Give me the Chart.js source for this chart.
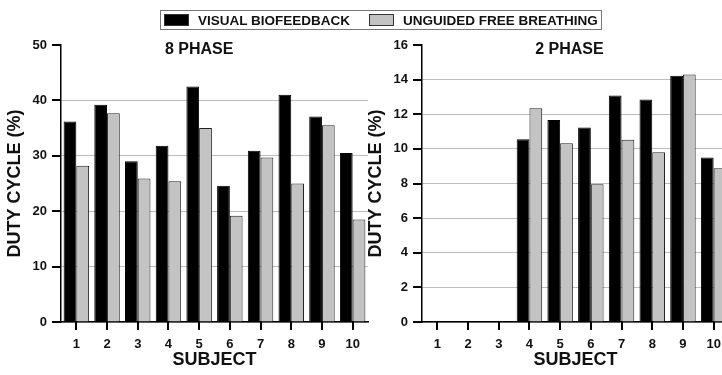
<!DOCTYPE html>
<html>
<head>
    <meta charset="utf-8">
    <title>Duty cycle by subject</title>
    <script src="https://cdn.jsdelivr.net/npm/chart.js@4/dist/chart.umd.min.js"></script>
    <style>
        body { margin: 0; width: 722px; height: 375px; overflow: hidden; background: #fff; position: relative; }
        .box { position: absolute; top: 0; width: 370px; height: 375px; }
        #legend { position: absolute; left: 160px; top: 10px; width: 440px; height: 18px; border: 1px solid #777;
            font: bold 13.5px "Liberation Sans", Arial, sans-serif; color: #111; display: flex; align-items: center;
            white-space: nowrap; }
        #legend span.sw { display: inline-block; flex-shrink: 0; width: 25px; height: 12px; border: 1px solid #333; margin: 0 9px 0 3px; box-sizing: border-box; }
        #legend .item { display: flex; flex-shrink: 0; align-items: center; margin-right: 16px; }
    </style>
</head>
<body>
    <div class="box" style="left:0"><canvas id="chart8"></canvas></div>
    <div class="box" style="left:361px"><canvas id="chart2"></canvas></div>
    <div id="legend"></div>

    <script>
        var subjects = ['1', '2', '3', '4', '5', '6', '7', '8', '9', '10'];
        var seriesNames = ['VISUAL BIOFEEDBACK', 'UNGUIDED FREE BREATHING'];
        var seriesColors = ['#000000', '#c3c3c3'];

        // 8 phase
        var phase8Bio = [36.2, 39.2, 29.0, 31.8, 42.5, 24.6, 30.9, 41.0, 37.1, 30.5];
        var phase8Free = [28.2, 37.7, 25.9, 25.4, 35.0, 19.2, 29.7, 25.0, 35.5, 18.5];
        var phase8Ticks = { max: 50, step: 10 };

        // 2 phase (subjects 1-3 had no data)
        var phase2Bio = [null, null, null, 10.56, 11.67, 11.23, 13.08, 12.85, 14.23, 9.5];
        var phase2Free = [null, null, null, 12.35, 10.33, 7.96, 10.52, 9.81, 14.29, 8.88];
        var phase2Ticks = { max: 16, step: 2 };

        var FONT = '"Liberation Sans", Arial, sans-serif';

        // legend shared by both panels
        var leg = document.getElementById('legend');
        seriesNames.forEach(function(n, i) {
            var it = document.createElement('div');
            it.className = 'item';
            it.innerHTML = '<span class="sw" style="background:' + seriesColors[i] + '"></span>' + n;
            leg.appendChild(it);
        });

        var panelTitle = {
            id: 'panelTitle',
            afterDraw: function(chart, args, opts) {
                var c = chart.ctx, a = chart.chartArea;
                c.save();
                c.font = 'bold 16px ' + FONT;
                c.fillStyle = '#111';
                c.textAlign = 'center';
                c.textBaseline = 'middle';
                c.fillText(opts.text, a.left + (a.right - a.left) * opts.pos, a.top + 5);
                c.restore();
            }
        };

        // outward black tick marks on both axes
        var tickMarks = {
            id: 'tickMarks',
            afterDraw: function(chart) {
                var c = chart.ctx, a = chart.chartArea, xs = chart.scales.x, ys = chart.scales.y;
                c.save();
                c.strokeStyle = '#000';
                c.lineWidth = 2;
                c.beginPath();
                xs.ticks.forEach(function(t, i) {
                    var px = Math.round(xs.getPixelForTick(i));
                    c.moveTo(px, a.bottom);
                    c.lineTo(px, a.bottom + 8);
                });
                ys.ticks.forEach(function(t, i) {
                    var py = Math.round(ys.getPixelForTick(i));
                    c.moveTo(a.left - 9, py);
                    c.lineTo(a.left, py);
                });
                c.stroke();
                c.restore();
            }
        };

        function makeChart(id, title, pos, bio, free, ticks) {
            var ctx = document.getElementById(id).getContext('2d');
            return new Chart(ctx, {
                type: 'bar',
                data: {
                    labels: subjects,
                    datasets: [{
                        label: seriesNames[0],
                        data: bio,
                        backgroundColor: seriesColors[0],
                        borderColor: '#000',
                        borderWidth: 1
                    }, {
                        label: seriesNames[1],
                        data: free,
                        backgroundColor: seriesColors[1],
                        borderColor: '#222',
                        borderWidth: 1
                    }]
                },
                plugins: [panelTitle, tickMarks],
                options: {
                    responsive: true,
                    maintainAspectRatio: false,
                    animation: false,
                    layout: { padding: { top: 45, right: 2, left: 0, bottom: 0 } },
                    datasets: { bar: { categoryPercentage: 0.83, barPercentage: 1 } },
                    plugins: {
                        legend: { display: false },
                        tooltip: { enabled: false },
                        panelTitle: { text: title, pos: pos }
                    },
                    scales: {
                        x: {
                            afterFit: function(s) { s.height = 53; },
                            grid: { offset: false, drawOnChartArea: false, tickLength: 8, color: 'rgba(0,0,0,0)' },
                            border: { color: '#000', width: 1.5 },
                            ticks: { color: '#111', font: { family: FONT, size: 13, weight: 'bold' }, padding: 7 },
                            title: { display: true, text: 'SUBJECT', color: '#111', font: { family: FONT, size: 18, weight: 'bold' }, padding: { top: 5 } }
                        },
                        y: {
                            min: 0,
                            max: ticks.max,
                            afterFit: function(s) { s.width = 61; },
                            grid: {
                                color: function(c) { return c.tick && c.tick.value === ticks.max ? 'rgba(0,0,0,0)' : '#bdbdbd'; },
                                tickColor: 'rgba(0,0,0,0)',
                                tickLength: 9,
                                lineWidth: 1
                            },
                            border: { color: '#000', width: 1.5 },
                            ticks: { stepSize: ticks.step, color: '#111', font: { family: FONT, size: 13, weight: 'bold' }, padding: 5 },
                            title: { display: true, text: 'DUTY CYCLE (%)', color: '#111', font: { family: FONT, size: 18, weight: 'bold' }, padding: { bottom: 2 } }
                        }
                    }
                }
            });
        }

        makeChart('chart8', '8 PHASE', 0.45, phase8Bio, phase8Free, phase8Ticks);
        makeChart('chart2', '2 PHASE', 0.48, phase2Bio, phase2Free, phase2Ticks);
    </script>
</body>
</html>
